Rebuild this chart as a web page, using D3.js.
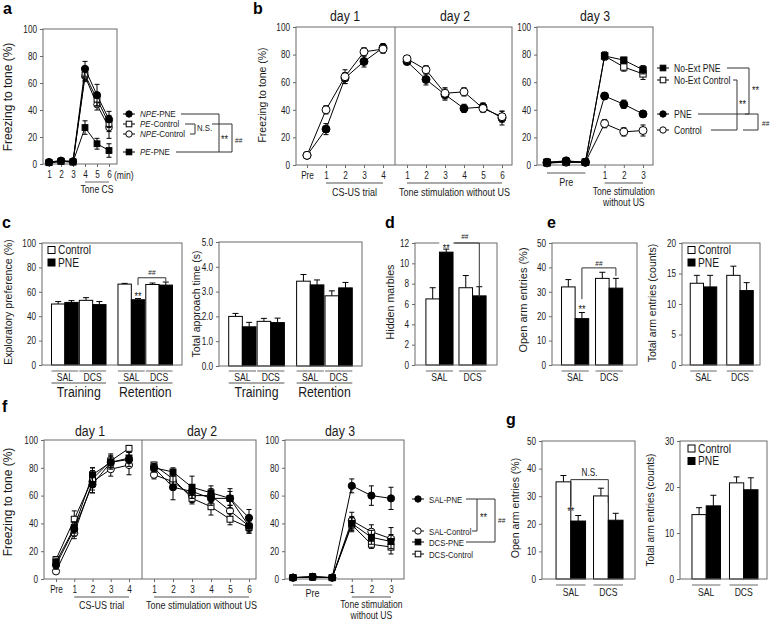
<!DOCTYPE html>
<html lang="en">
<head>
<meta charset="UTF-8">
<title>Freezing and anxiety panels</title>
<script src="https://cdnjs.cloudflare.com/ajax/libs/d3/7.8.5/d3.min.js"></script>
<style>
  body { margin: 0; background: #fff; }
  svg { display: block; }
</style>
</head>
<body>
<div id="wrapper"></div>
<script>
// ---------- data ----------
// a: tone test, minutes 1-6
const aTicks = ["1", "2", "3", "4", "5", "6"];
const aNpePne = [1.5, 2.5, 2, 70.5, 51, 33];
const aNpePneErr = [0.8, 0.8, 0.8, 5.5, 8, 6];
const aPeCtrl = [1, 2, 1.5, 66, 48, 30];
const aPeCtrlErr = [0.8, 0.8, 0.8, 4, 5, 6];
const aNpeCtrl = [1, 2, 1.5, 65, 44, 27];
const aNpeCtrlErr = [0.8, 0.8, 0.8, 4, 4, 8];
const aPePne = [1, 2, 1.5, 27, 15, 10];
const aPePneErr = [0.8, 0.8, 0.8, 5, 4, 5];

// b: three days
const bDay1Ticks = ["Pre", "1", "2", "3", "4"];
const bDay1Ctrl = [7, 40, 64, 82, 84];
const bDay1CtrlErr = [1, 3, 5, 3, 3];
const bDay1Pne = [7, 26, 63, 75, 85];
const bDay1PneErr = [1, 4, 4, 4, 3];
const bDay2Ticks = ["1", "2", "3", "4", "5", "6"];
const bDay2Ctrl = [77, 69, 52, 53, 41, 35];
const bDay2CtrlErr = [2, 3, 4, 3, 3, 4];
const bDay2Pne = [75, 62, 51, 41, 42, 34];
const bDay2PneErr = [2, 4, 4, 3, 3, 5];
const bDay3Ticks = ["", "", "", "1", "2", "3"];
const bNoExtPne = [2, 2.5, 2, 79, 76, 69];
const bNoExtPneErr = [1, 1, 1, 2, 2, 3];
const bNoExtCtrl = [1.5, 2, 2, 79, 71, 66];
const bNoExtCtrlErr = [1, 1, 1, 3, 3, 4];
const bDay3Pne = [2, 3, 2, 50, 44, 37];
const bDay3PneErr = [1, 1, 1, 2.5, 3, 2];
const bDay3Ctrl = [1.5, 2, 2, 30, 24, 25];
const bDay3CtrlErr = [1, 1, 1, 3, 3, 4];

// c: object recognition (Training SAL, Training DCS, Retention SAL, Retention DCS)
const cPhases = ["Training", "Retention"];
const cDrugs = ["SAL", "DCS"];
const cPrefCtrl = [50, 53, 66.3, 66];
const cPrefCtrlErr = [2, 2.2, 0.6, 1.2];
const cPrefPne = [51.3, 49.5, 53.5, 65.5];
const cPrefPneErr = [1.5, 2.5, 1, 2.5];
const cTimeCtrl = [2.0, 1.8, 3.42, 2.83];
const cTimeCtrlErr = [0.12, 0.12, 0.27, 0.2];
const cTimePne = [1.58, 1.75, 3.27, 3.15];
const cTimePneErr = [0.18, 0.18, 0.2, 0.22];

// d: marble burying
const dCtrl = [6.5, 7.6];
const dCtrlErr = [1.1, 1.2];
const dPne = [11.1, 6.8];
const dPneErr = [0.3, 0.9];

// e: elevated plus maze
const eOpenCtrl = [32, 35.5];
const eOpenCtrlErr = [3, 2.5];
const eOpenPne = [19, 31.5];
const eOpenPneErr = [2.5, 4];
const eTotalCtrl = [13.4, 14.7];
const eTotalCtrlErr = [1.3, 1.5];
const eTotalPne = [12.8, 12.2];
const eTotalPneErr = [1.9, 1.3];

// f: DCS fear extinction
const fDay1Ticks = ["Pre", "1", "2", "3", "4"];
const fD1SalPne = [10, 36, 68, 84, 86];
const fD1SalPneErr = [3, 5, 6, 5, 5];
const fD1SalCtrl = [5.5, 33, 70, 79, 82];
const fD1SalCtrlErr = [1, 4, 8, 5, 7];
const fD1DcsPne = [12, 37, 75, 84, 87];
const fD1DcsPneErr = [3, 4, 5, 4, 4];
const fD1DcsCtrl = [14, 43, 72, 85, 94];
const fD1DcsCtrlErr = [2, 6, 8, 5, 2];
const fDay2Ticks = ["1", "2", "3", "4", "5", "6"];
const fD2SalPne = [80, 66, 63, 58, 58, 44];
const fD2SalPneErr = [3, 9, 5, 5, 5, 6];
const fD2SalCtrl = [75, 70, 60, 60, 49, 38];
const fD2SalCtrlErr = [3, 5, 5, 5, 4, 5];
const fD2DcsPne = [80, 77, 66, 62, 58, 38];
const fD2DcsPneErr = [3, 3, 8, 5, 7, 4];
const fD2DcsCtrl = [82, 72, 58, 52, 43, 37];
const fD2DcsCtrlErr = [2, 4, 4, 6, 4, 4];
const fDay3Ticks = ["", "", "", "1", "2", "3"];
const fD3SalPne = [1, 1.5, 1, 67, 60, 58];
const fD3SalPneErr = [1, 1, 1, 5, 7, 8];
const fD3SalCtrl = [1, 1.5, 1, 42, 34, 29];
const fD3SalCtrlErr = [1, 1, 1, 6, 5, 8];
const fD3DcsPne = [1, 1.5, 1, 40, 30, 27];
const fD3DcsPneErr = [1, 1, 1, 5, 5, 5];
const fD3DcsCtrl = [1, 1.5, 1, 39, 25, 23];
const fD3DcsCtrlErr = [1, 1, 1, 5, 3, 5];

// g: elevated plus maze with DCS
const gOpenCtrl = [35.2, 30.1];
const gOpenCtrlErr = [2.3, 2.8];
const gOpenPne = [21, 21.3];
const gOpenPneErr = [2, 2.5];
const gTotalCtrl = [14, 20.9];
const gTotalCtrlErr = [1.5, 1.3];
const gTotalPne = [15.9, 19.4];
const gTotalPneErr = [2.3, 2.6];

// ---------- helpers ----------
const SANS = "'Liberation Sans', Arial, sans-serif";
const SQ = 0.82; // the figure's horizontal text is squeezed
const AX = "#6a6a6a", TX = "#1a1a1a", UL = "#8c8c8c", BR = "#333";

const svg = d3.select("#wrapper").append("svg").attr("width", 773).attr("height", 621);

function txt(x, y, s, o = {}) {
  return svg.append("text").attr("transform", `translate(${x},${y}) scale(${SQ},1)`).text(s)
    .attr("font-family", SANS).attr("font-size", o.size || 10.5)
    .attr("text-anchor", o.anchor || "start").attr("font-weight", o.weight || "normal")
    .attr("fill", TX);
}
function letter(x, y, s) {
  svg.append("text").attr("x", x).attr("y", y).text(s).attr("font-family", SANS)
    .attr("font-size", 16).attr("font-weight", "bold").attr("fill", "#000");
}
function ylab(x, yc, s, size) {
  svg.append("text").attr("transform", `translate(${x},${yc}) rotate(-90)`)
    .attr("text-anchor", "middle").attr("font-family", SANS).attr("font-size", size)
    .attr("fill", TX).text(s);
}
function seg(x1, y1, x2, y2, col, w) {
  svg.append("line").attr("x1", x1).attr("y1", y1).attr("x2", x2).attr("y2", y2)
    .attr("stroke", col || BR).attr("stroke-width", w || 1);
}
function poly(pts, col) {
  svg.append("path").attr("d", d3.line()(pts)).attr("fill", "none")
    .attr("stroke", col || BR).attr("stroke-width", 1);
}
function frame(x0, x1, y0, y1) {
  svg.append("rect").attr("x", x0).attr("y", y0).attr("width", x1 - x0).attr("height", y1 - y0)
    .attr("fill", "none").attr("stroke", AX).attr("stroke-width", 1);
}
function styleAxis(g, left) {
  g.select(".domain").remove();
  g.selectAll("line").attr("stroke", AX);
  g.selectAll("text").attr("font-family", SANS).attr("font-size", 10).attr("fill", TX)
    .attr("transform", `scale(${SQ},1)`);
  if (left) g.selectAll("text").attr("x", -6 / SQ);
}
function yAxis(x, y, ticks) {
  const g = svg.append("g").attr("transform", `translate(${x},0)`)
    .call(d3.axisLeft(y).tickValues(ticks).tickSize(3).tickPadding(3));
  styleAxis(g, true);
}
function xAxis(yPix, x, labels, which) {
  const idx = which || d3.range(labels.length);
  const g = svg.append("g").attr("transform", `translate(0,${yPix})`)
    .call(d3.axisBottom(x).tickValues(idx).tickFormat(i => labels[i]).tickSize(3).tickPadding(4));
  styleAxis(g, false);
}
function marker(g, x, y, mk, r) {
  const fill = mk[0] === "f" ? "#000" : "#fff";
  if (mk[1] === "c") {
    g.append("circle").attr("cx", x).attr("cy", y).attr("r", r)
      .attr("fill", fill).attr("stroke", "#000").attr("stroke-width", 1);
  } else {
    const s = r * 1.75;
    g.append("rect").attr("x", x - s / 2).attr("y", y - s / 2).attr("width", s).attr("height", s)
      .attr("fill", fill).attr("stroke", "#000").attr("stroke-width", 1);
  }
}
function series(x, y, vals, errs, mk, r) {
  r = r || 3.6;
  const g = svg.append("g");
  g.append("path").datum(vals)
    .attr("d", d3.line().x((d, i) => x(i)).y(d => y(d)))
    .attr("fill", "none").attr("stroke", "#000").attr("stroke-width", 1);
  vals.forEach((v, i) => {
    const cx = x(i), t = y(v + errs[i]), b = y(Math.max(0, v - errs[i]));
    g.append("line").attr("x1", cx).attr("x2", cx).attr("y1", t).attr("y2", b).attr("stroke", "#000");
    g.append("line").attr("x1", cx - 2.5).attr("x2", cx + 2.5).attr("y1", t).attr("y2", t).attr("stroke", "#000");
    g.append("line").attr("x1", cx - 2.5).attr("x2", cx + 2.5).attr("y1", b).attr("y2", b).attr("stroke", "#000");
  });
  vals.forEach((v, i) => marker(g, x(i), y(v), mk, r));
}
function bars(groups, y, ctrl, ctrlErr, pne, pneErr) {
  // groups: [{x, w}] left edge and width of each SAL/DCS group
  const g = svg.append("g");
  groups.forEach((grp, i) => {
    const inner = d3.scaleBand().domain(["Control", "PNE"]).range([grp.x, grp.x + grp.w]);
    [["Control", ctrl, ctrlErr, "#fff"], ["PNE", pne, pneErr, "#000"]].forEach(([k, v, e, f]) => {
      const bx = inner(k), bw = inner.bandwidth(), cx = bx + bw / 2;
      const top = y(v[i] + e[i]);
      g.append("line").attr("x1", cx).attr("x2", cx).attr("y1", top).attr("y2", y(v[i])).attr("stroke", "#000");
      g.append("line").attr("x1", cx - 3).attr("x2", cx + 3).attr("y1", top).attr("y2", top).attr("stroke", "#000");
      g.append("rect").attr("x", bx).attr("y", y(v[i])).attr("width", bw).attr("height", y(0) - y(v[i]))
        .attr("fill", f).attr("stroke", "#000").attr("stroke-width", 1);
    });
  });
}
function groupLabels(groups, names, yLine, yText) {
  groups.forEach((grp, i) => {
    seg(grp.x, yLine, grp.x + grp.w, yLine, UL, 1.3);
    txt(grp.x + grp.w / 2, yText, names[i], {anchor: "middle"});
  });
}
function simpleGroups(x0, x1, pIn, pOut, align) {
  const s = d3.scaleBand().domain(cDrugs).range([x0, x1]).paddingInner(pIn).paddingOuter(pOut).align(align);
  return cDrugs.map(d => ({x: s(d), w: s.bandwidth()}));
}
function legendSq(x, y, fill, label) {
  svg.append("rect").attr("x", x).attr("y", y - 3.5).attr("width", 7).attr("height", 7)
    .attr("fill", fill).attr("stroke", "#000").attr("stroke-width", 1);
  txt(x + 10, y + 4.3, label, {size: 12.5});
}
function legendLine(x, y, mk, label, size) {
  seg(x - 6, y, x + 6, y, "#000", 1);
  marker(svg, x, y, mk, 3.2);
  return txt(x + 11, y + 3.6, label, {size: size || 10.5});
}

// ---------- panel a ----------
letter(3, 14, "a");
const aY = d3.scaleLinear().domain([0, 100]).range([164, 29]);
const aX = d3.scaleLinear().domain([0, 5]).range([49, 109]);
frame(43, 117, 29, 164);
yAxis(43, aY, [0, 20, 40, 60, 80, 100]);
xAxis(164, aX, aTicks);
series(aX, aY, aPePne, aPePneErr, "fs", 3.3);
series(aX, aY, aNpeCtrl, aNpeCtrlErr, "oc", 3.3);
series(aX, aY, aPeCtrl, aPeCtrlErr, "os", 3.3);
series(aX, aY, aNpePne, aNpePneErr, "fc", 3.6);
txt(114, 179, "(min)");
seg(aX(3), 182, aX(5), 182, UL, 1.3);
txt(aX(4), 193, "Tone CS", {anchor: "middle"});
ylab(12, 97, "Freezing to tone (%)", 12);

const aLeg = [["fc", "NPE", "-PNE", 114], ["os", "PE", "-Control", 124], ["oc", "NPE", "-Control", 134], ["fs", "PE", "-PNE", 152]];
aLeg.forEach(([mk, it, rest, y]) => {
  seg(123, y, 135, y, "#000", 1);
  marker(svg, 129, y, mk, 3.2);
  const t = txt(140, y + 3.3, "", {size: 9.8});
  t.append("tspan").attr("font-style", "italic").text(it);
  t.append("tspan").text(rest);
});
seg(181, 114, 219, 114); seg(219, 114, 219, 152);
poly([[185, 124], [195, 124], [195, 134], [190, 134]]);
txt(197, 131, "N.S.", {size: 9.5});
poly([[212, 124], [232, 124], [232, 152]]);
seg(176, 152, 232, 152);
txt(221, 143, "**", {size: 11});
txt(235, 143, "##", {size: 8});

// ---------- panel b ----------
letter(253, 14, "b");
const bY = d3.scaleLinear().domain([0, 100]).range([165, 27]);
const bX1 = d3.scaleLinear().domain([0, 4]).range([307, 383]);
const bX2 = d3.scaleLinear().domain([0, 5]).range([407, 502]);
const bX3 = d3.scaleLinear().domain([0, 5]).range([547, 643]);
frame(296, 512, 27, 165);
seg(395, 27, 395, 165, AX, 1);
frame(537, 653, 27, 165);
yAxis(296, bY, [0, 20, 40, 60, 80, 100]);
yAxis(537, bY, [0, 20, 40, 60, 80, 100]);
xAxis(165, bX1, bDay1Ticks);
xAxis(165, bX2, bDay2Ticks);
xAxis(165, bX3, bDay3Ticks, [3, 4, 5]);
series(bX1, bY, bDay1Pne, bDay1PneErr, "fc", 4);
series(bX1, bY, bDay1Ctrl, bDay1CtrlErr, "oc", 4);
series(bX2, bY, bDay2Pne, bDay2PneErr, "fc", 4);
series(bX2, bY, bDay2Ctrl, bDay2CtrlErr, "oc", 4);
series(bX3, bY, bDay3Ctrl, bDay3CtrlErr, "oc", 4);
series(bX3, bY, bDay3Pne, bDay3PneErr, "fc", 4);
series(bX3, bY, bNoExtCtrl, bNoExtCtrlErr, "os", 3.6);
series(bX3, bY, bNoExtPne, bNoExtPneErr, "fs", 3.6);
txt(345, 21, "day 1", {size: 15, anchor: "middle"});
txt(455, 21, "day 2", {size: 15, anchor: "middle"});
txt(595, 21, "day 3", {size: 15, anchor: "middle"});
ylab(266, 95, "Freezing to tone (%)", 10.5);
seg(bX1(1), 183, bX1(4), 183, UL, 1.3);
txt((bX1(1) + bX1(4)) / 2, 196, "CS-US trial", {size: 11, anchor: "middle"});
seg(bX2(0), 183, bX2(5), 183, UL, 1.3);
txt((bX2(0) + bX2(5)) / 2, 196, "Tone stimulation without US", {size: 11, anchor: "middle"});
seg(bX3(0), 173, bX3(2), 173, UL, 1.3);
txt(bX3(1), 186, "Pre", {size: 11, anchor: "middle"});
seg(bX3(3), 183, bX3(5), 183, UL, 1.3);
txt(bX3(4), 195, "Tone stimulation", {size: 10.5, anchor: "middle"});
txt(bX3(4), 206, "without US", {size: 10.5, anchor: "middle"});

legendLine(663, 68, "fs", "No-Ext PNE");
legendLine(663, 80, "os", "No-Ext Control");
legendLine(663, 114, "fc", "PNE");
legendLine(663, 130, "oc", "Control");
poly([[727, 68], [749, 68], [749, 114]]);
seg(698, 114, 749, 114);
poly([[733, 80], [737, 80], [737, 130]]);
seg(711, 130, 737, 130);
txt(752, 94, "**", {size: 11});
txt(739, 108, "**", {size: 11});
poly([[745, 114], [758, 114], [758, 130], [743, 130]]);
txt(762, 126, "##", {size: 8});

// ---------- panel c ----------
letter(2, 228, "c");
function nestedGroups(x0, x1) {
  const outer = d3.scaleBand().domain(cPhases).range([x0, x1]).paddingInner(0.18).paddingOuter(0.143);
  const mid = d3.scaleBand().domain(cDrugs).range([0, outer.bandwidth()]).paddingInner(0.04);
  const grp = [];
  cPhases.forEach(p => cDrugs.forEach(d => grp.push({x: outer(p) + mid(d), w: mid.bandwidth()})));
  const ph = cPhases.map(p => ({x: outer(p), w: outer.bandwidth()}));
  return {grp, ph};
}
const cY1 = d3.scaleLinear().domain([0, 100]).range([365, 243]);
const cG1 = nestedGroups(42, 182);
bars(cG1.grp, cY1, cPrefCtrl, cPrefCtrlErr, cPrefPne, cPrefPneErr);
frame(42, 182, 243, 365);
yAxis(42, cY1, [0, 20, 40, 60, 80, 100]);
groupLabels(cG1.grp, ["SAL", "DCS", "SAL", "DCS"], 371, 381);
cG1.ph.forEach((p, i) => {
  seg(p.x, 383, p.x + p.w, 383, UL, 1.5);
  txt(p.x + p.w / 2, 397, cPhases[i], {size: 15, anchor: "middle"});
});
ylab(12, 302, "Exploratory preference (%)", 10.5);
legendSq(48, 250, "#fff", "Control");
legendSq(48, 262.5, "#000", "PNE");
{
  const sx = cG1.grp[2].x + cG1.grp[2].w * 0.75, dx = cG1.grp[3].x + cG1.grp[3].w * 0.75;
  poly([[sx, cY1(65.5)], [sx, cY1(71.5)], [dx, cY1(71.5)], [dx, cY1(68.5)]]);
  txt((sx + dx) / 2, 275, "##", {size: 8, anchor: "middle"});
  txt(sx, 300, "**", {size: 11, anchor: "middle"});
}

const cY2 = d3.scaleLinear().domain([0, 5]).range([366, 242]);
const cG2 = nestedGroups(219, 362);
bars(cG2.grp, cY2, cTimeCtrl, cTimeCtrlErr, cTimePne, cTimePneErr);
frame(219, 362, 242, 366);
yAxis(219, cY2, [0, 1, 2, 3, 4, 5]);
groupLabels(cG2.grp, ["SAL", "DCS", "SAL", "DCS"], 371, 381);
cG2.ph.forEach((p, i) => {
  seg(p.x, 383, p.x + p.w, 383, UL, 1.5);
  txt(p.x + p.w / 2, 397, cPhases[i], {size: 15, anchor: "middle"});
});
ylab(200, 304, "Total approach time (s)", 10.5);

// ---------- panel d ----------
letter(385, 228, "d");
const dY = d3.scaleLinear().domain([0, 12]).range([365, 243]);
const dG = simpleGroups(415, 497, 0.18, 0.33, 0.5);
bars(dG, dY, dCtrl, dCtrlErr, dPne, dPneErr);
frame(415, 497, 243, 365);
yAxis(415, dY, [0, 2, 4, 6, 8, 10, 12]);
groupLabels(dG, cDrugs, 371, 381);
ylab(394, 302, "Hidden marbles", 10.7);
{
  const sx = dG[0].x + dG[0].w * 0.75, dx = dG[1].x + dG[1].w * 0.75;
  poly([[dx, dY(6.7)], [dx, dY(12)], [sx + 8, dY(12)]]);
  svg.append("rect").attr("x", sx - 7).attr("y", 241).attr("width", 14).attr("height", 4).attr("fill", "#fff");
  txt(sx, 252, "**", {size: 11, anchor: "middle"});
  txt((sx + dx) / 2 + 2, 239, "##", {size: 8, anchor: "middle"});
}

// ---------- panel e ----------
letter(547, 228, "e");
const eY1 = d3.scaleLinear().domain([0, 50]).range([365, 243]);
const eG1 = simpleGroups(552, 637, 0.2, 0.35, 0.4);
bars(eG1, eY1, eOpenCtrl, eOpenCtrlErr, eOpenPne, eOpenPneErr);
frame(552, 637, 243, 365);
yAxis(552, eY1, [0, 10, 20, 30, 40, 50]);
groupLabels(eG1, cDrugs, 371, 381);
ylab(527, 300, "Open arm entries (%)", 11);
{
  const sx = eG1[0].x + eG1[0].w * 0.75, dx = eG1[1].x + eG1[1].w * 0.75;
  poly([[sx, eY1(27)], [sx, eY1(39.8)], [dx, eY1(39.8)], [dx, eY1(36.5)]]);
  txt((sx + dx) / 2, 266, "##", {size: 8, anchor: "middle"});
  txt(sx, 313, "**", {size: 11, anchor: "middle"});
}

const eY2 = d3.scaleLinear().domain([0, 20]).range([365, 243]);
const eG2 = simpleGroups(682, 760, 0.274, 0.205, 0.55);
bars(eG2, eY2, eTotalCtrl, eTotalCtrlErr, eTotalPne, eTotalPneErr);
frame(682, 760, 243, 365);
yAxis(682, eY2, [0, 5, 10, 15, 20]);
groupLabels(eG2, cDrugs, 371, 381);
ylab(656, 303, "Total arm entries (counts)", 10.5);
legendSq(688, 250, "#fff", "Control");
legendSq(688, 262.5, "#000", "PNE");

// ---------- panel f ----------
letter(2, 412, "f");
const fY = d3.scaleLinear().domain([0, 100]).range([579, 440]);
const fX1 = d3.scaleLinear().domain([0, 4]).range([56, 129]);
const fX2 = d3.scaleLinear().domain([0, 5]).range([154, 249]);
const fX3 = d3.scaleLinear().domain([0, 5]).range([293, 391]);
frame(44, 256, 440, 579);
seg(142, 440, 142, 579, AX, 1);
frame(285, 404, 440, 579);
yAxis(44, fY, [0, 20, 40, 60, 80, 100]);
yAxis(285, fY, [0, 20, 40, 60, 80, 100]);
xAxis(579, fX1, fDay1Ticks);
xAxis(579, fX2, fDay2Ticks);
xAxis(579, fX3, fDay3Ticks, [3, 4, 5]);
[[fX1, [fD1SalCtrl, fD1SalCtrlErr, "oc"], [fD1DcsCtrl, fD1DcsCtrlErr, "os"], [fD1SalPne, fD1SalPneErr, "fc"], [fD1DcsPne, fD1DcsPneErr, "fs"]],
 [fX2, [fD2SalCtrl, fD2SalCtrlErr, "oc"], [fD2DcsCtrl, fD2DcsCtrlErr, "os"], [fD2SalPne, fD2SalPneErr, "fc"], [fD2DcsPne, fD2DcsPneErr, "fs"]],
 [fX3, [fD3SalCtrl, fD3SalCtrlErr, "oc"], [fD3DcsCtrl, fD3DcsCtrlErr, "os"], [fD3SalPne, fD3SalPneErr, "fc"], [fD3DcsPne, fD3DcsPneErr, "fs"]]]
  .forEach(([x, ...ss]) => ss.forEach(([v, e, mk]) => series(x, fY, v, e, mk, mk[1] === "c" ? 3.6 : 3.4)));
txt(90, 436, "day 1", {size: 15, anchor: "middle"});
txt(202, 436, "day 2", {size: 15, anchor: "middle"});
txt(340, 436, "day 3", {size: 15, anchor: "middle"});
ylab(12, 502, "Freezing to tone (%)", 12);
seg(fX1(1), 597, fX1(4), 597, UL, 1.3);
txt((fX1(1) + fX1(4)) / 2, 609, "CS-US trial", {size: 11, anchor: "middle"});
seg(fX2(0), 597, fX2(5), 597, UL, 1.3);
txt((fX2(0) + fX2(5)) / 2, 609, "Tone stimulation without US", {size: 11, anchor: "middle"});
seg(fX3(0), 585, fX3(2), 585, UL, 1.3);
txt(fX3(1), 597, "Pre", {size: 11, anchor: "middle"});
seg(fX3(3), 597, fX3(5), 597, UL, 1.3);
txt(fX3(4), 608, "Tone stimulation", {size: 10.5, anchor: "middle"});
txt(fX3(4), 619, "without US", {size: 10.5, anchor: "middle"});

legendLine(418, 499, "fc", "SAL-PNE", 9.5);
legendLine(418, 531, "oc", "SAL-Control", 9.5);
legendLine(418, 542, "fs", "DCS-PNE", 9.5);
legendLine(418, 554, "os", "DCS-Control", 9.5);
poly([[466, 499], [495, 499], [495, 542], [466, 542]]);
poly([[477, 499], [477, 531], [472, 531]]);
txt(480, 521, "**", {size: 11});
txt(498, 523, "##", {size: 8});

// ---------- panel g ----------
letter(506, 425, "g");
const gY1 = d3.scaleLinear().domain([0, 50]).range([579, 441]);
const gG1 = simpleGroups(542, 635, 0.213, 0.347, 0.54);
bars(gG1, gY1, gOpenCtrl, gOpenCtrlErr, gOpenPne, gOpenPneErr);
frame(542, 635, 441, 579);
yAxis(542, gY1, [0, 10, 20, 30, 40, 50]);
groupLabels(gG1, cDrugs, 585, 596);
ylab(519, 508, "Open arm entries (%)", 10.5);
{
  const sx = gG1[0].x + gG1[0].w / 2, dx = gG1[1].x + gG1[1].w / 2;
  poly([[sx, gY1(26.3)], [sx, gY1(36)], [dx, gY1(36)], [dx, gY1(27.5)]]);
  txt((sx + dx) / 2, 476, "N.S.", {size: 10, anchor: "middle"});
  txt(sx, 515, "**", {size: 11, anchor: "middle"});
}

const gY2 = d3.scaleLinear().domain([0, 30]).range([579, 441]);
const gG2 = simpleGroups(680, 767, 0.24, 0.28, 0.57);
bars(gG2, gY2, gTotalCtrl, gTotalCtrlErr, gTotalPne, gTotalPneErr);
frame(680, 767, 441, 579);
yAxis(680, gY2, [0, 10, 20, 30]);
groupLabels(gG2, cDrugs, 585, 596);
ylab(654, 510, "Total arm entries (counts)", 10);
legendSq(688, 448.5, "#fff", "Control");
legendSq(688, 461, "#000", "PNE");
</script>
</body>
</html>
